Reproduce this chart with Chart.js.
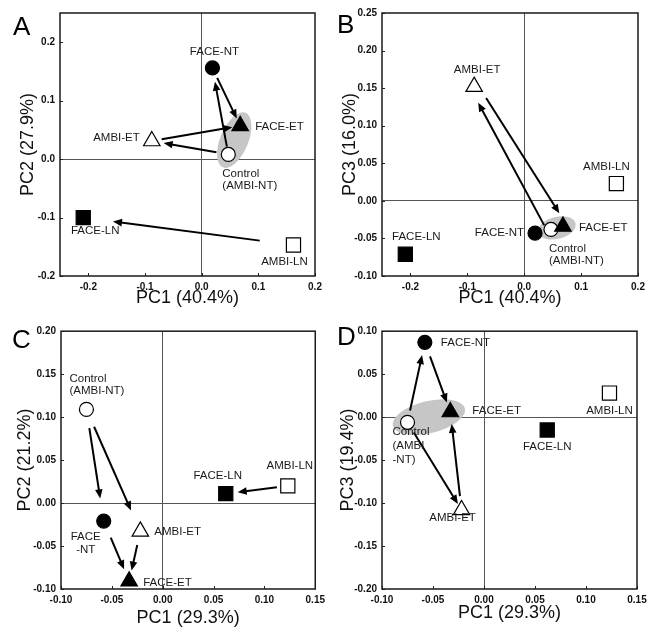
<!DOCTYPE html>
<html>
<head>
<meta charset="utf-8">
<script src="https://cdn.jsdelivr.net/npm/chart.js@4.4.1/dist/chart.umd.min.js"></script>
<style>
  body { margin: 0; background: #fff; }
  #wrap { position: relative; width: 661px; height: 640px; }
  .panel { position: absolute; }
</style>
</head>
<body>
<div id="wrap">
  <div class="panel" style="left:0;top:0;"><canvas id="chartA" width="330" height="320"></canvas></div>
  <div class="panel" style="left:330px;top:0;"><canvas id="chartB" width="331" height="320"></canvas></div>
  <div class="panel" style="left:0;top:320px;"><canvas id="chartC" width="330" height="320"></canvas></div>
  <div class="panel" style="left:330px;top:320px;"><canvas id="chartD" width="331" height="320"></canvas></div>
</div>
<script>
// ---- data ----
const treatments = ['Control', 'FACE-NT', 'AMBI-ET', 'FACE-ET', 'AMBI-LN', 'FACE-LN'];

// panels A and B share PC1 (40.4%)
const pc1AB = [0.047, 0.019, -0.088, 0.068, 0.162, -0.209];
const pc2A  = [0.008, 0.156, 0.031, 0.057, -0.147, -0.100];
const pc3B  = [-0.038, -0.043, 0.152, -0.034, 0.023, -0.071];

// panels C and D share PC1 (29.3%)
const pc1CD = [-0.075, -0.058, -0.022, -0.033, 0.123, 0.062];
const pc2C  = [0.109, -0.021, -0.033, -0.091, 0.020, 0.011];
const pc3D  = [-0.006, 0.087, -0.108, 0.006, 0.028, -0.015];

const xTicksAB = [-0.2, -0.1, 0.0, 0.1, 0.2];
const yTicksA  = [-0.2, -0.1, 0.0, 0.1, 0.2];
const yTicksB  = [-0.10, -0.05, 0.00, 0.05, 0.10, 0.15, 0.20, 0.25];
const xTicksCD = [-0.10, -0.05, 0.00, 0.05, 0.10, 0.15];
const yTicksC  = [-0.10, -0.05, 0.00, 0.05, 0.10, 0.15, 0.20];
const yTicksD  = [-0.20, -0.15, -0.10, -0.05, 0.00, 0.05, 0.10];

// point labels (per treatment, same order)
const labelsA = [['Control', '(AMBI-NT)'], ['FACE-NT'], ['AMBI-ET'], ['FACE-ET'], ['AMBI-LN'], ['FACE-LN']];
const labelsB = [['Control', '(AMBI-NT)'], ['FACE-NT'], ['AMBI-ET'], ['FACE-ET'], ['AMBI-LN'], ['FACE-LN']];
const labelsC = [['Control', '(AMBI-NT)'], ['FACE', '-NT'], ['AMBI-ET'], ['FACE-ET'], ['AMBI-LN'], ['FACE-LN']];
const labelsD = [['Control', '(AMBI', '-NT)'], ['FACE-NT'], ['AMBI-ET'], ['FACE-ET'], ['AMBI-LN'], ['FACE-LN']];

// arrows: from -> to
const arrowsA = [['Control', 'FACE-NT'], ['FACE-NT', 'FACE-ET'], ['Control', 'AMBI-ET'], ['AMBI-ET', 'FACE-ET'], ['AMBI-LN', 'FACE-LN']];
const arrowsB = [['Control', 'AMBI-ET'], ['AMBI-ET', 'FACE-ET']];
const arrowsC = [['Control', 'FACE-NT'], ['Control', 'AMBI-ET'], ['FACE-NT', 'FACE-ET'], ['AMBI-ET', 'FACE-ET'], ['AMBI-LN', 'FACE-LN']];
const arrowsD = [['Control', 'FACE-NT'], ['FACE-NT', 'FACE-ET'], ['Control', 'AMBI-ET'], ['AMBI-ET', 'FACE-ET']];

// ---- styles ----
const markerStyle = {
  'Control': { shape: 'circle',   fill: '#fff', r: 7 },
  'FACE-NT': { shape: 'circle',   fill: '#000', r: 7 },
  'AMBI-ET': { shape: 'triangle', fill: '#fff', r: 9.5 },
  'FACE-ET': { shape: 'triangle', fill: '#000', r: 9.5 },
  'AMBI-LN': { shape: 'rect',     fill: '#fff', r: 10 },
  'FACE-LN': { shape: 'rect',     fill: '#000', r: 10 }
};
const FAMILY = '"Liberation Sans", Arial, sans-serif';
const LABEL_FONT = '11.5px ' + FAMILY;

// label placement: [dx, dy, align, lineGap]
const labelPosA = [[-6, 19, 'left', 12], [2, -16, 'center', 12], [-12, -3, 'right', 12], [15, 1, 'left', 12], [-9, 17, 'center', 12], [12, 13, 'center', 12]];
const labelPosB = [[-2, 19, 'left', 12], [-11, 0, 'right', 12], [3, -17, 'center', 12], [16, 1, 'left', 12], [-10, -17, 'center', 12], [11, -17, 'center', 12]];
const labelPosC = [[-17, -31, 'left', 12], [-18, 16, 'center', 13], [14, 0, 'left', 12], [14, 2, 'left', 12], [2, -20, 'center', 12], [-8, -18, 'center', 12]];
const labelPosD = [[-15, 10, 'left', 14], [16, 0, 'left', 12], [-9, 8, 'center', 12], [22, -1, 'left', 12], [0, 18, 'center', 12], [0, 17, 'center', 12]];

// arrow gaps: [startGap, endGap, sideOffset]
const arrowGapA = [[8, 14, 0], [11, 8, 0], [12, 12, 0], [10, 8, 0], [34, 30, 0]];
const arrowGapB = [[7, 16, -4], [16, 13, -4]];
const arrowGapC = [[19, 23, 0], [19, 23, 0], [18, 13, 0], [14, 11, 0], [11, 12, 0]];
const arrowGapD = [[12, 13, 0], [15, 10, 0], [12, 7, 0], [14, 12, 0]];

function drawArrow(ctx, p0, p1, g0, g1, off) {
  const dx = p1.x - p0.x, dy = p1.y - p0.y;
  const len = Math.hypot(dx, dy);
  const ux = dx / len, uy = dy / len, nx = -uy, ny = ux;
  const sx = p0.x + ux * g0 + nx * off, sy = p0.y + uy * g0 + ny * off;
  const ex = p1.x - ux * g1 + nx * off, ey = p1.y - uy * g1 + ny * off;
  const hl = 9, hw = 3.8;
  const bx = ex - ux * hl, by = ey - uy * hl;
  ctx.beginPath();
  ctx.moveTo(sx, sy);
  ctx.lineTo(bx + ux * 1, by + uy * 1);
  ctx.stroke();
  ctx.beginPath();
  ctx.moveTo(ex, ey);
  ctx.lineTo(bx + nx * hw, by + ny * hw);
  ctx.lineTo(bx - nx * hw, by - ny * hw);
  ctx.closePath();
  ctx.fill();
}

function makePanel(cfg) {
  const pts = cfg.xs.map((x, i) => ({ x: x, y: cfg.ys[i] }));
  const pix = (chart, name) => {
    const i = treatments.indexOf(name);
    return { x: chart.scales.x.getPixelForValue(cfg.xs[i]), y: chart.scales.y.getPixelForValue(cfg.ys[i]) };
  };

  const panelPlugin = {
    id: 'panelDecor' + cfg.letter,
    beforeDatasetsDraw(chart) {
      const ctx = chart.ctx;
      ctx.save();
      // grey ellipse around Control and FACE-ET
      if (cfg.ellipse) {
        const a = pix(chart, 'Control'), b = pix(chart, 'FACE-ET');
        const cx = (a.x + b.x) / 2, cy = (a.y + b.y) / 2;
        const ang = Math.atan2(b.y - a.y, b.x - a.x);
        const major = Math.hypot(b.x - a.x, b.y - a.y) / 2 + cfg.ellipse.extra;
        ctx.fillStyle = '#c6c6c6';
        ctx.beginPath();
        ctx.ellipse(cx, cy, major, cfg.ellipse.minor, ang, 0, Math.PI * 2);
        ctx.fill();
      }
      // arrows
      ctx.strokeStyle = '#000';
      ctx.fillStyle = '#000';
      ctx.lineWidth = 2;
      cfg.arrows.forEach((ar, k) => {
        const g = cfg.arrowGap[k];
        drawArrow(ctx, pix(chart, ar[0]), pix(chart, ar[1]), g[0], g[1], g[2]);
      });
      ctx.restore();
    },
    afterDatasetsDraw(chart) {
      const ctx = chart.ctx;
      ctx.save();
      ctx.font = LABEL_FONT;
      ctx.fillStyle = '#1a1a1a';
      ctx.textBaseline = 'middle';
      treatments.forEach((name, i) => {
        const p = pix(chart, name);
        const pos = cfg.labelPos[i];
        ctx.textAlign = pos[2];
        cfg.labels[i].forEach((line, j) => {
          ctx.fillText(line, p.x + pos[0], p.y + pos[1] + j * pos[3]);
        });
      });
      ctx.restore();
    },
    afterDraw(chart) {
      const ctx = chart.ctx;
      const ca = chart.chartArea;
      ctx.save();
      // inner tick marks
      ctx.strokeStyle = '#222';
      ctx.lineWidth = 1;
      chart.scales.x.ticks.forEach(t => {
        const x = Math.round(chart.scales.x.getPixelForValue(t.value)) + 0.5;
        ctx.beginPath(); ctx.moveTo(x, ca.bottom); ctx.lineTo(x, ca.bottom - 3); ctx.stroke();
      });
      chart.scales.y.ticks.forEach(t => {
        const y = Math.round(chart.scales.y.getPixelForValue(t.value)) + 0.5;
        ctx.beginPath(); ctx.moveTo(ca.left, y); ctx.lineTo(ca.left + 3, y); ctx.stroke();
      });
      // frame
      ctx.lineWidth = 1.5;
      ctx.strokeStyle = '#1a1a1a';
      ctx.strokeRect(ca.left, ca.top, ca.right - ca.left, ca.bottom - ca.top);
      // panel letter
      ctx.fillStyle = '#000';
      ctx.font = '26px ' + FAMILY;
      ctx.textAlign = 'left';
      ctx.textBaseline = 'alphabetic';
      ctx.fillText(cfg.letter, cfg.letterPos[0], cfg.letterPos[1]);
      ctx.restore();
    }
  };

  const tickFont = { family: FAMILY, size: 10, weight: 'bold' };
  const titleFont = { family: FAMILY, size: 18 };
  const zeroGrid = {
    color: c => (c.tick && c.tick.value === 0 ? '#555' : 'rgba(0,0,0,0)'),
    lineWidth: 1,
    drawTicks: false
  };

  new Chart(document.getElementById(cfg.id), {
    type: 'scatter',
    data: {
      datasets: [{
        data: pts,
        pointStyle: treatments.map(n => markerStyle[n].shape),
        pointRadius: treatments.map(n => markerStyle[n].r),
        pointHoverRadius: treatments.map(n => markerStyle[n].r),
        pointBackgroundColor: treatments.map(n => markerStyle[n].fill),
        pointBorderColor: '#000',
        pointBorderWidth: 1.2
      }]
    },
    options: {
      responsive: false,
      animation: false,
      devicePixelRatio: 1,
      layout: { padding: { left: 0, top: cfg.padTop, right: cfg.padRight, bottom: 0 } },
      plugins: { legend: { display: false }, tooltip: { enabled: false } },
      scales: {
        x: {
          type: 'linear',
          min: cfg.xRange[0], max: cfg.xRange[1],
          afterBuildTicks: s => { s.ticks = cfg.xTicks.map(v => ({ value: v })); },
          afterFit: s => { s.height = cfg.xAxisH; },
          ticks: { font: tickFont, color: '#111', padding: 5, maxRotation: 0, autoSkip: false,
                   callback: v => v.toFixed(cfg.xDec) },
          grid: zeroGrid,
          border: { display: false },
          title: { display: true, text: cfg.xTitle, font: titleFont, color: '#111',
                   padding: { top: 0, bottom: cfg.xTitlePad } }
        },
        y: {
          type: 'linear',
          min: cfg.yRange[0], max: cfg.yRange[1],
          afterBuildTicks: s => { s.ticks = cfg.yTicks.map(v => ({ value: v })); },
          afterFit: s => { s.width = cfg.yAxisW; },
          ticks: { font: tickFont, color: '#111', padding: 5, autoSkip: false,
                   callback: v => v.toFixed(cfg.yDec) },
          grid: zeroGrid,
          border: { display: false },
          title: { display: true, text: cfg.yTitle, font: titleFont, color: '#111',
                   padding: { top: cfg.yTitlePad, bottom: 0 } }
        }
      }
    },
    plugins: [panelPlugin]
  });
}

makePanel({
  id: 'chartA', letter: 'A', letterPos: [13, 35],
  xs: pc1AB, ys: pc2A, xTicks: xTicksAB, yTicks: yTicksA, xDec: 1, yDec: 1,
  xRange: [-0.25, 0.2], yRange: [-0.2, 0.25],
  xTitle: 'PC1 (40.4%)', yTitle: 'PC2 (27.9%)',
  labels: labelsA, labelPos: labelPosA, arrows: arrowsA, arrowGap: arrowGapA,
  ellipse: { extra: 14, minor: 14 },
  padTop: 13, padRight: 15, yAxisW: 60, xAxisH: 44, xTitlePad: 11, yTitlePad: 17
});

makePanel({
  id: 'chartB', letter: 'B', letterPos: [7, 33],
  xs: pc1AB, ys: pc3B, xTicks: xTicksAB, yTicks: yTicksB, xDec: 1, yDec: 2,
  xRange: [-0.25, 0.2], yRange: [-0.1, 0.25],
  xTitle: 'PC1 (40.4%)', yTitle: 'PC3 (16.0%)',
  labels: labelsB, labelPos: labelPosB, arrows: arrowsB, arrowGap: arrowGapB,
  ellipse: { extra: 13, minor: 11 },
  padTop: 13, padRight: 23, yAxisW: 52, xAxisH: 44, xTitlePad: 11, yTitlePad: 9
});

makePanel({
  id: 'chartC', letter: 'C', letterPos: [12, 28],
  xs: pc1CD, ys: pc2C, xTicks: xTicksCD, yTicks: yTicksC, xDec: 2, yDec: 2,
  xRange: [-0.1, 0.15], yRange: [-0.1, 0.2],
  xTitle: 'PC1 (29.3%)', yTitle: 'PC2 (21.2%)',
  labels: labelsC, labelPos: labelPosC, arrows: arrowsC, arrowGap: arrowGapC,
  ellipse: null,
  padTop: 8, padRight: 14, yAxisW: 61, xAxisH: 51, xTitlePad: 11, yTitlePad: 14
});

makePanel({
  id: 'chartD', letter: 'D', letterPos: [7, 25],
  xs: pc1CD, ys: pc3D, xTicks: xTicksCD, yTicks: yTicksD, xDec: 2, yDec: 2,
  xRange: [-0.1, 0.15], yRange: [-0.2, 0.1],
  xTitle: 'PC1 (29.3%)', yTitle: 'PC3 (19.4%)',
  labels: labelsD, labelPos: labelPosD, arrows: arrowsD, arrowGap: arrowGapD,
  ellipse: { extra: 15, minor: 16 },
  padTop: 6, padRight: 24, yAxisW: 52, xAxisH: 51, xTitlePad: 16, yTitlePad: 7
});
</script>
</body>
</html>
